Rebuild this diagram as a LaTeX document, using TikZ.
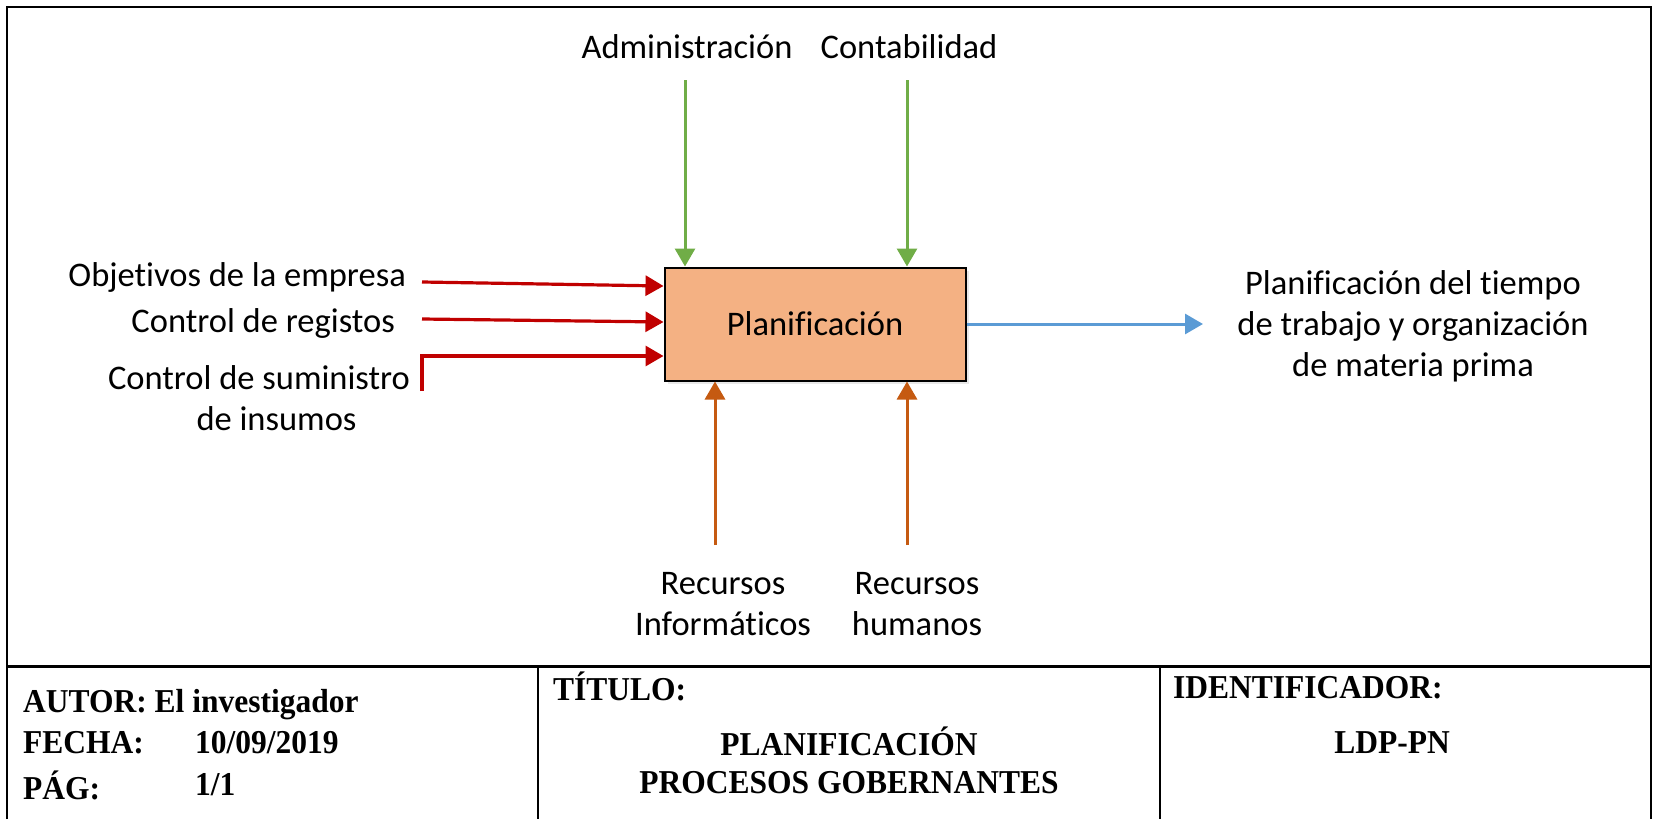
\documentclass[tikz,border=0pt]{standalone}
\usepackage{fontspec}
\setmainfont[Ligatures=NoCommon]{Carlito}
\newfontfamily\tnr{Liberation Serif}
\usetikzlibrary{arrows.meta,shadows}
\definecolor{cred}{HTML}{C00000}
\definecolor{cgreen}{HTML}{70AD47}
\definecolor{corange}{HTML}{C55A11}
\definecolor{cblue}{HTML}{5B9BD5}
\definecolor{cbox}{HTML}{F4B183}
\begin{document}
\begin{tikzpicture}[x=1pt,y=-1pt,
  lbl/.style={font=\fontsize{34.5}{41}\selectfont, inner sep=0pt, align=center},
  foot/.style={font=\tnr\bfseries\fontsize{31.5}{40}\selectfont, inner sep=0pt, anchor=west, yscale=1.06},
  footc/.style={foot, anchor=center},
  arr/.style={line width=3pt, -{Triangle[length=18pt,width=20pt]}},
  redarr/.style={arr, draw=cred, line width=3.2pt},
  greenarr/.style={arr, draw=cgreen},
  orangearr/.style={arr, draw=corange},
  bluearr/.style={arr, draw=cblue},
  procbox/.style={draw=black, line width=2pt, fill=cbox, minimum width=301pt, minimum height=113pt, inner sep=0pt,
    font=\fontsize{34.5}{41}\selectfont, drop shadow={opacity=0.18, shadow xshift=3pt, shadow yshift=-3pt}},
  frame/.style={draw=black, line width=2pt}
]
\useasboundingbox (0,0) rectangle (1653,819);
% frame
\draw[frame] (7,819) -- (7,7) -- (1651,7) -- (1651,819);
\draw[black, line width=3pt] (7,666) -- (1651,666);
\draw[frame] (538,666) -- (538,819);
\draw[frame] (1160,666) -- (1160,819);

% process box
\node[procbox] (P) at (815,324) {Planificación};

% controls (top)
\node[lbl] (adm) at (687,47) {Administración};
\node[lbl] (con) at (909,47) {Contabilidad};
\coordinate (g1) at (685,80);
\coordinate (g2) at (907,80);
\draw[greenarr] (g1) -- (g1 |- P.north);
\draw[greenarr] (g2) -- (g2 |- P.north);

% inputs (left)
\node[lbl, anchor=east] (obj) at (406,277) {Objetivos de la empresa};
\node[lbl, anchor=east] (reg) at (395,323) {Control de registos};
\node[lbl] (sum) at (259,398) {Control de suministro\\\hspace*{35pt}de insumos};
\coordinate (r1) at (422,282);
\coordinate (r1e) at (0,286);
\coordinate (r2) at (422,319);
\coordinate (r2e) at (0,322);
\coordinate (r3) at (422,356);
\coordinate (r3b) at (422,391);
\draw[redarr] (r1) -- (P.west |- r1e);
\draw[redarr] (r2) -- (P.west |- r2e);
\draw[redarr] (r3b) -- (r3) -- (r3 -| P.west);

% output (right)
\coordinate (bo) at (1203,324);
\draw[bluearr] (P.east) -- (bo);
\node[lbl] (out) at (1413,326) {Planificación del tiempo\\de trabajo y organización\\de materia prima};

% mechanisms (bottom)
\coordinate (o1) at (715,545);
\coordinate (o2) at (907,545);
\draw[orangearr] (o1) -- (o1 |- P.south);
\draw[orangearr] (o2) -- (o2 |- P.south);
\node[lbl] (ri) at (723,604) {Recursos\\Informáticos};
\node[lbl] (rh) at (917,604) {Recursos\\humanos};

% footer
\node[foot] (aut) at (23,705) {AUTOR: El investigador};
\node[foot] (fec) at (23,743) {FECHA:};
\node[foot] (fecv) at (195,743) {10/09/2019};
\node[foot] (pag) at (23,785) {PÁG:};
\node[foot] (pagv) at (195,785) {1/1};
\node[foot] (tit) at (553,686) {TÍTULO:};
\node[footc] (t1) at (849,741) {PLANIFICACIÓN};
\node[footc] (t2) at (849,783) {PROCESOS GOBERNANTES};
\node[foot] (idf) at (1173,688) {IDENTIFICADOR:};
\node[footc] (idv) at (1392,743) {LDP-PN};
\end{tikzpicture}
\end{document}
